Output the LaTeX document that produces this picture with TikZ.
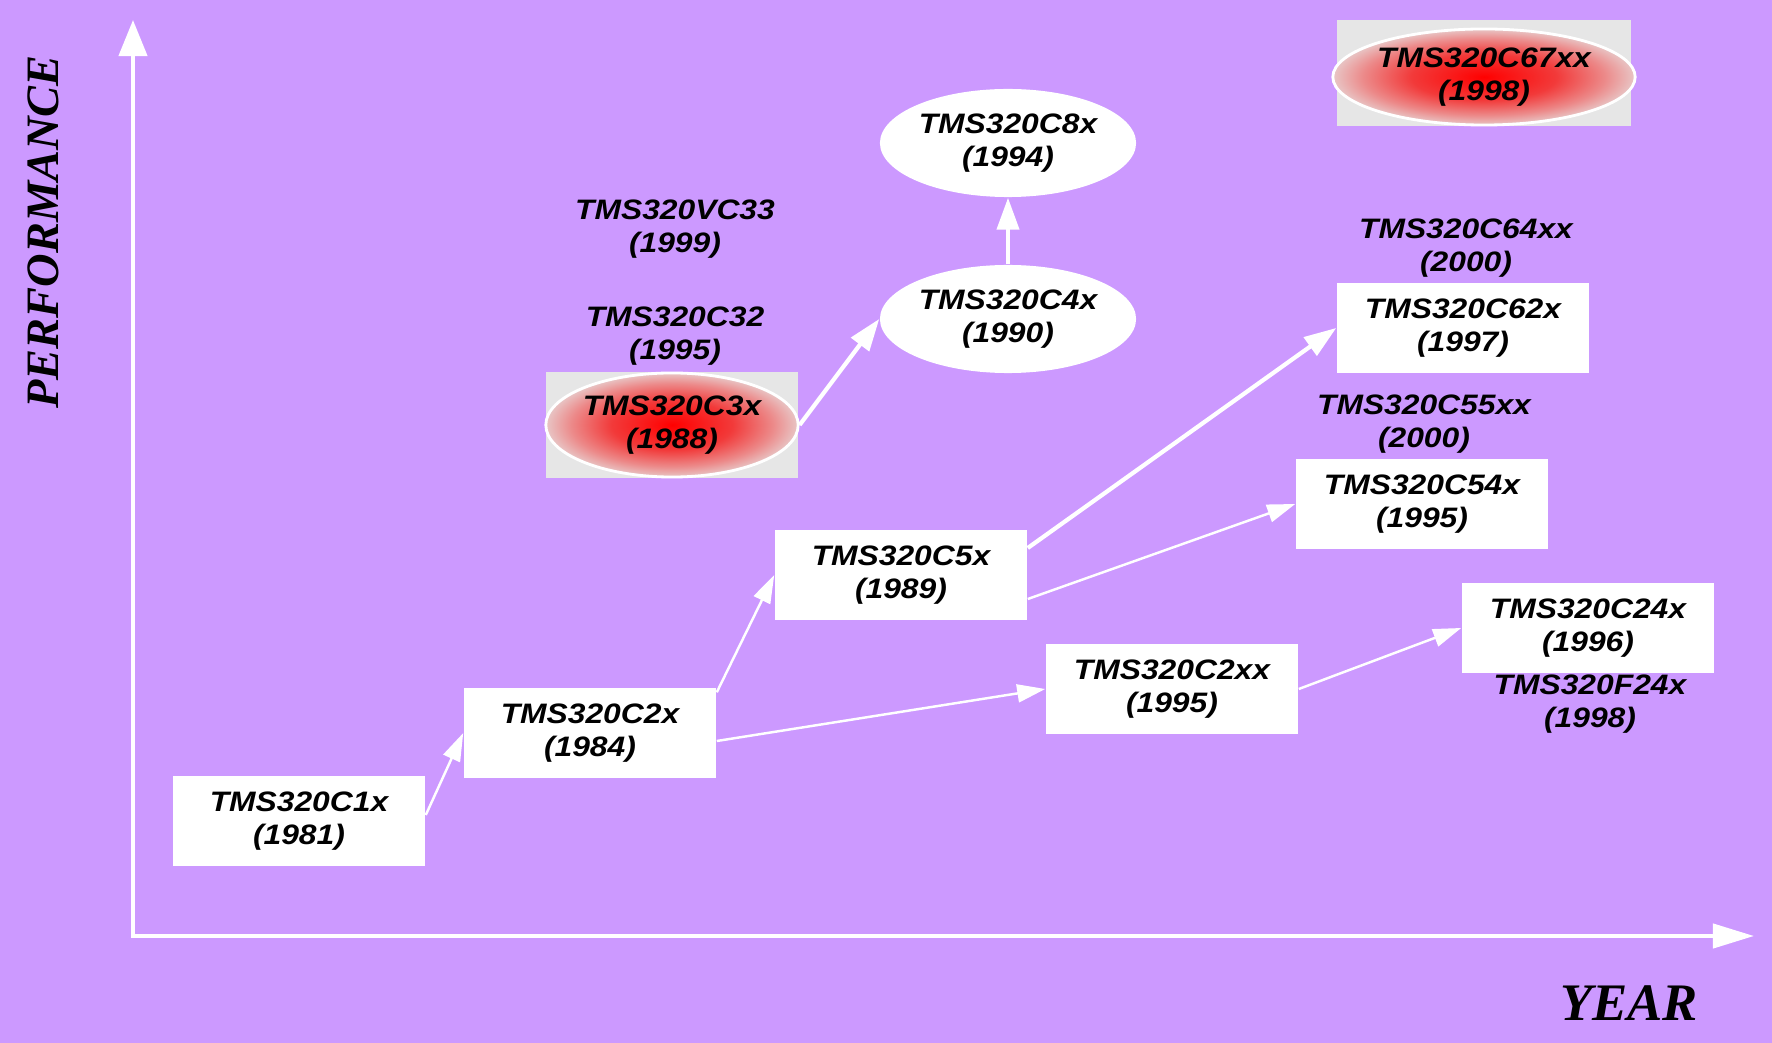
\documentclass[tikz,border=0pt]{standalone}
\usepackage{fontspec}
\newfontfamily\chipfont[FakeStretch=1.13]{Liberation Sans}
\newfontfamily\axisfont{Liberation Serif}
\usetikzlibrary{arrows.meta, shapes.geometric}
\definecolor{lilac}{HTML}{CC99FF}
\definecolor{padgray}{HTML}{E6E6E6}
\definecolor{hotred}{HTML}{FF0000}
\definecolor{hotmid}{HTML}{F23A3A}
\definecolor{hotpink}{HTML}{EC8A8A}
\definecolor{hotedge}{HTML}{E8C6C6}
\pgfdeclareradialshading{hotspot}{\pgfpoint{0bp}{0bp}}{%
  color(0bp)=(hotred); color(12bp)=(hotmid); color(20bp)=(hotpink);
  color(25bp)=(hotedge); color(50bp)=(hotedge)}

\begin{document}
\begin{tikzpicture}[x=0.01cm, y=-0.01cm,
  chiptext/.style={align=center, text=black,
    font=\chipfont\fontsize{8}{9.6}\selectfont\bfseries\itshape},
  chipbox/.style={chiptext, fill=white, inner sep=0pt,
    minimum width=2.52cm, minimum height=0.9cm},
  chipoval/.style={chiptext, ellipse, fill=white, inner sep=0pt,
    minimum width=2.56cm, minimum height=1.08cm},
  hotoval/.style={chiptext, ellipse, inner sep=0pt, draw=white, line width=0.8pt,
    shading=hotspot},
  graypad/.style={fill=padgray, inner sep=0pt},
  link/.style={white, line width=0.7pt, -{Triangle[length=0.28cm, width=0.18cm]}},
  biglink/.style={white, line width=1.2pt, -{Triangle[length=0.32cm, width=0.22cm]}},
  axis/.style={white, line width=1.2pt,
    {Triangle[length=0.36cm, width=0.28cm]}-{Triangle[length=0.41cm, width=0.24cm]}},
  axislabel/.style={text=black},
]

% Background
\fill[lilac] (0,0) rectangle (1772,1043);
\useasboundingbox (0,0) rectangle (1772,1043);

% ========================================
% Axes
% ========================================
\coordinate (origin) at (133,936);
\coordinate (yend) at (133,20);
\coordinate (xend) at (1754,936);
\draw[axis] (yend) -- (origin) -- (xend);

\node[axislabel, rotate=90, font=\axisfont\fontsize{13.2}{15}\selectfont\bfseries\itshape]
  (perf) at (43,232) {PERFORMANCE};
\node[axislabel, font=\axisfont\fontsize{15}{17}\selectfont\bfseries\itshape]
  (year) at (1629,1003) {YEAR};

% ========================================
% Device boxes
% ========================================
\node[chipbox] (c1x) at (299,821) {TMS320C1x\\(1981)};
\node[chipbox] (c2x) at (590,733) {TMS320C2x\\(1984)};
\node[chipbox] (c5x) at (901,575) {TMS320C5x\\(1989)};
\node[chipbox] (c2xx) at (1172,689) {TMS320C2xx\\(1995)};
\node[chipbox] (c24x) at (1588,628) {TMS320C24x\\(1996)};
\node[chipbox] (c54x) at (1422,504) {TMS320C54x\\(1995)};
\node[chipbox] (c62x) at (1463,328) {TMS320C62x\\(1997)};

% Plain labels
\node[chiptext] (f24x) at (1590,704) {TMS320F24x\\(1998)};
\node[chiptext] (c55xx) at (1424,424) {TMS320C55xx\\(2000)};
\node[chiptext] (c64xx) at (1466,248) {TMS320C64xx\\(2000)};
\node[chiptext] (c32) at (675,336) {TMS320C32\\(1995)};
\node[chiptext] (vc33) at (675,229) {TMS320VC33\\(1999)};

% Ovals
\node[chipoval] (c4x) at (1008,319) {TMS320C4x\\(1990)};
\node[chipoval] (c8x) at (1008,143) {TMS320C8x\\(1994)};

% Highlighted devices
\node[graypad, minimum width=2.51cm, minimum height=1.06cm] (c3xpad) at (672,425) {};
\node[hotoval, minimum width=2.49cm, minimum height=1.04cm] (c3x) at (c3xpad) {TMS320C3x\\(1988)};
\node[graypad, minimum width=2.93cm, minimum height=1.06cm] (c67pad) at (1484,73) {};
\node[hotoval, minimum width=2.89cm, minimum height=0.96cm] (c67xx) at (1484,77) {TMS320C67xx\\(1998)};

% ========================================
% Family links
% ========================================
\draw[link] ([yshift=0.06cm]c1x.east) -- (c2x.west);
\draw[link] ([yshift=-0.05cm]c2x.north east) -- (c5x.west);
\draw[link] ([yshift=-0.08cm]c2x.east) -- (c2xx.west);
\draw[link] (c2xx.east) -- (c24x.west);
\draw[link] ([yshift=-0.24cm]c5x.east) -- (c54x.west);
\draw[biglink] ([yshift=0.27cm]c5x.east) -- (c62x.west);
\draw[biglink] (c3x.east) -- (c4x.west);
\draw[biglink] (c4x.north) -- (c8x.south);

\end{tikzpicture}
\end{document}
